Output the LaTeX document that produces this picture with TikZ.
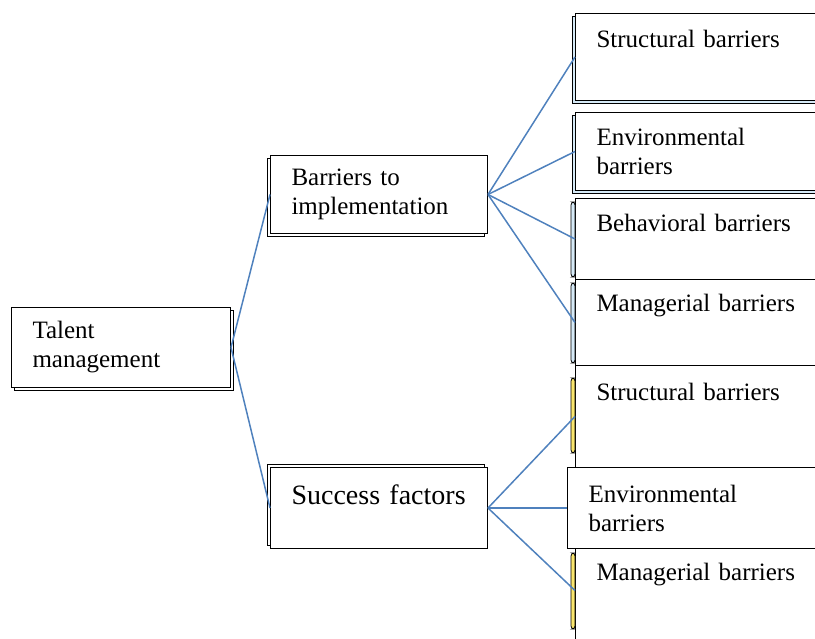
\documentclass[tikz,border=0pt]{standalone}
\usepackage{fontspec}
\setmainfont{Liberation Serif}
\usetikzlibrary{positioning,shadows}
\definecolor{linkblue}{RGB}{79,129,189}
\definecolor{paleblue}{RGB}{214,234,247}
\definecolor{paleyellow}{RGB}{250,230,110}
\tikzset{
	box/.style={draw, line width=1pt, fill=white, anchor=north west, align=left,
		inner xsep=21pt, inner ysep=0pt, font=\fontsize{25}{29}\selectfont},
	shade box/.style n args={3}{general shadow={shadow xshift=#1pt, shadow yshift=#2pt, draw=black, line width=1pt, fill=#3}},
	toptext/.style 2 args={text height=#1pt, text depth=#2pt},
	link/.style={draw=linkblue, line width=1.5pt},
	edgebar/.style={draw, line width=0.8pt, fill=#1, rounded corners=3pt},
}

\begin{document}
\begin{tikzpicture}[x=1pt, y=-1pt]
	\useasboundingbox (0,0) rectangle (815,639);
	\clip (0,0) rectangle (815,639);

	\node[box, shade box={3}{-3}{white}, text width=177pt, minimum height=80pt] (talent) at (11,307) {Talent\\management};
	\node[box, shade box={-3}{-3}{white}, text width=175pt, minimum height=78pt] (barr) at (270,155) {Barriers to\\implementation};
	\node[box, shade box={-3}{3}{white}, text width=175pt, toptext={36.5}{44.5}, font=\fontsize{28}{32}\selectfont] (succ) at (270,467) {Success factors};

	\node[box, shade box={-3}{-3}{paleblue}, text width=218pt, toptext={34}{53}] (str) at (575,13) {Structural barriers};
	\node[box, shade box={-3}{-3}{paleblue}, text width=218pt, minimum height=78pt] (env) at (575,112) {Environmental\\barriers};
	\node[box, text width=218pt, toptext={33.5}{47.5}] (beh) at (575,198) {Behavioral barriers};
	\node[box, text width=218pt, toptext={32.5}{53.5}] (man) at (575,279) {Managerial barriers};

	\node[box, text width=218pt, toptext={34.5}{67.5}] (strB) at (575,365) {Structural barriers};
	\node[box, text width=226pt, minimum height=81pt] (envB) at (567,467) {Environmental\\barriers};
	\node[box, text width=218pt, toptext={31.5}{80.5}] (manB) at (575,548) {Managerial barriers};

	\draw[edgebar=paleblue] ([xshift=-4pt,yshift=-4pt]beh.north west) rectangle ([yshift=3pt]beh.south west);
	\draw[edgebar=paleblue] ([xshift=-4pt,yshift=-4pt]man.north west) rectangle ([yshift=3pt]man.south west);
	\draw[edgebar=paleyellow] ([xshift=-4pt,yshift=-13pt]strB.north west) rectangle ([yshift=15pt]strB.south west);
	\draw[edgebar=paleyellow] ([xshift=-4pt,yshift=-5pt]manB.north west) rectangle ([yshift=32pt]manB.south west);

	\draw[link] (talent.east) -- (barr.west);
	\draw[link] (talent.east) -- (succ.west);
	\foreach \n in {str,env,beh,man}
		\draw[link] (barr.east) -- (\n.west);
	\draw[link] (succ.east) -- (strB.west);
	\draw[link] (succ.east) -- (envB.west);
	\draw[link] (succ.east) -- ([yshift=14pt]manB.west);
\end{tikzpicture}
\end{document}
